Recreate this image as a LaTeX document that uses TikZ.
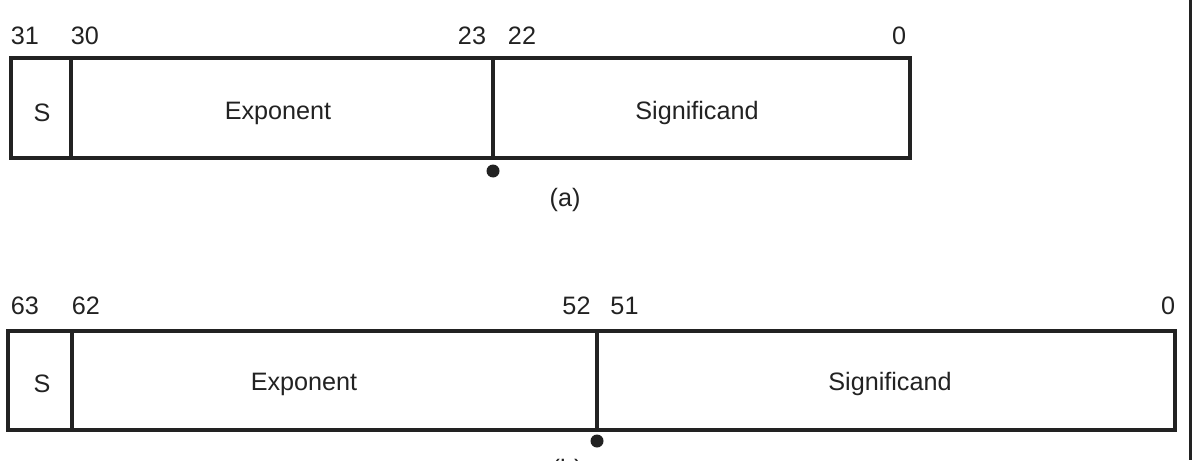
\documentclass[tikz,border=0pt]{standalone}
\usepackage{fontspec}
\setmainfont{Liberation Sans}
\usepackage{tikz}

\definecolor{ink}{HTML}{222222}

\begin{document}
\begin{tikzpicture}[x=0.5pt,y=-0.5pt,font=\fontsize{12.6}{15}\selectfont,text=ink,
    field/.style={draw=ink, line width=2pt},
    bitno/.style={inner sep=0pt},
    joint/.style={fill=ink, circle, inner sep=0pt, minimum size=6.5pt}]
    \useasboundingbox (0,0) rectangle (1192,460);
    % single precision (a)
    \draw[field] (10.5,58.5) rectangle (909.5,157.5);
    \draw[field] (71,58.5) -- (71,157.5);
    \draw[field] (493,58.5) -- (493,157.5);
    \node[bitno] (a31) at (25,36) {31};
    \node[bitno] (a30) at (85,36) {30};
    \node[bitno] (a23) at (472,36) {23};
    \node[bitno] (a22) at (522,36) {22};
    \node[bitno] (a0) at (899,36) {0};
    \node (as) at (42,113) {S};
    \node (aexp) at (278,113) {Exponent};
    \node (asig) at (697,113) {Significand};
    \node[joint] (adot) at (493,171) {};
    \node (alab) at (565,200) {(a)};
    % double precision (b)
    \draw[field] (8,330.5) rectangle (1175,429.5);
    \draw[field] (72,330.5) -- (72,429.5);
    \draw[field] (596.5,330.5) -- (596.5,429.5);
    \node[bitno] (b63) at (25,306) {63};
    \node[bitno] (b62) at (86,306) {62};
    \node[bitno] (b52) at (576.5,306) {52};
    \node[bitno] (b51) at (624.5,306) {51};
    \node[bitno] (b0) at (1168,306) {0};
    \node (bs) at (42,384) {S};
    \node (bexp) at (304,384) {Exponent};
    \node (bsig) at (890,384) {Significand};
    \node[joint] (bdot) at (597,441) {};
    \node (blab) at (567,471) {(b)};
    % page edge
    \draw[ink, line width=1.5pt] (1190.5,0) -- (1190.5,460);
\end{tikzpicture}
\end{document}
